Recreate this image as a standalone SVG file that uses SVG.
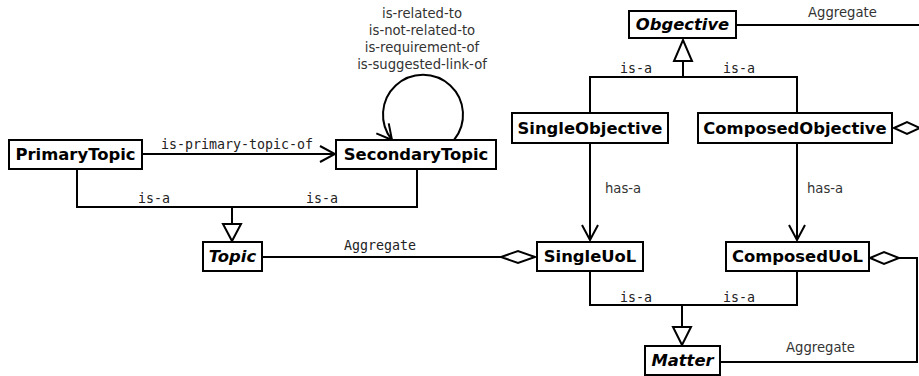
<svg xmlns="http://www.w3.org/2000/svg" width="919" height="376" viewBox="0 0 919 376">
<style>
.box{fill:#fff;stroke:#000;stroke-width:2}
.nt{font-family:"DejaVu Sans",sans-serif;font-weight:bold;font-size:16.4px;fill:#000;text-anchor:middle}
.it{font-style:italic}
.ln{fill:none;stroke:#000;stroke-width:2}
.tri{fill:#fff;stroke:#000;stroke-width:2}
.mono{font-family:"DejaVu Sans Mono",monospace;font-size:13.3px;fill:#222}
.sans{font-family:"DejaVu Sans",sans-serif;font-size:13.2px;fill:#333}
</style>
<defs>
<marker id="open" viewBox="0 0 18 18" refX="16" refY="9" markerWidth="18" markerHeight="18" markerUnits="userSpaceOnUse" orient="auto">
<path d="M1,1 L16,9 L1,17" fill="none" stroke="#000" stroke-width="2"/>
</marker>
</defs>
<g id="connectors">
<line class="ln" x1="142" y1="154" x2="335" y2="154" marker-end="url(#open)"/>
<text class="mono" x="161" y="149">is-primary-topic-of</text>
<path class="ln" d="M454,140 A40,40 0 1 0 392,140" marker-end="url(#open)"/>
<text class="sans" text-anchor="middle"><tspan x="422" y="18">is-related-to</tspan><tspan x="422" y="35">is-not-related-to</tspan><tspan x="422" y="52">is-requirement-of</tspan><tspan x="422" y="69">is-suggested-link-of</tspan></text>
<path class="ln" d="M77,169 V207 H417 V169 M232,207 V224"/>
<polygon class="tri" points="223,224 241,224 232,241"/>
<text class="mono" x="138" y="203">is-a</text>
<text class="mono" x="306" y="203">is-a</text>
<line class="ln" x1="262" y1="257" x2="501" y2="257"/>
<polygon class="tri" points="535,257 518,251 501,257 518,263"/>
<text class="mono" x="344" y="250">Aggregate</text>
<line class="ln" x1="736" y1="25" x2="919" y2="25"/>
<text class="sans" x="808" y="17">Aggregate</text>
<path class="ln" d="M590,113 V77 H797 V113 M683,77 V61"/>
<polygon class="tri" points="674,61 692,61 683,40"/>
<text class="mono" x="620" y="73">is-a</text>
<text class="mono" x="723" y="73">is-a</text>
<polygon class="tri" points="894,128 907,122 920,128 907,134"/>
<line class="ln" x1="590" y1="143" x2="590" y2="240" marker-end="url(#open)"/>
<line class="ln" x1="797" y1="143" x2="797" y2="240" marker-end="url(#open)"/>
<text class="sans" x="605" y="193">has-a</text>
<text class="sans" x="807" y="193">has-a</text>
<path class="ln" d="M590,271 V305 H797 V271 M682,305 V327"/>
<polygon class="tri" points="673,327 691,327 682,345"/>
<text class="mono" x="620" y="302">is-a</text>
<text class="mono" x="723" y="302">is-a</text>
<path class="ln" d="M720,362 H917 V258 H899"/>
<polygon class="tri" points="870,258 884,252 899,258 884,264"/>
<text class="sans" x="786" y="352">Aggregate</text>
</g>
<g id="PrimaryTopic"><rect class="box" x="9" y="140" width="133" height="29"/><text class="nt" x="75.5" y="160">PrimaryTopic</text></g>
<g id="SecondaryTopic"><rect class="box" x="336" y="140" width="160" height="29"/><text class="nt" x="416" y="160">SecondaryTopic</text></g>
<g id="Topic"><rect class="box" x="203" y="242" width="59" height="29"/><text class="nt it" x="232.5" y="262">Topic</text></g>
<g id="Obgective"><rect class="box" x="629" y="11" width="107" height="27"/><text class="nt it" x="682.5" y="30">Obgective</text></g>
<g id="SingleObjective"><rect class="box" x="512" y="113" width="156" height="30"/><text class="nt" x="590" y="134">SingleObjective</text></g>
<g id="ComposedObjective"><rect class="box" x="698" y="113" width="194" height="30"/><text class="nt" x="795" y="134">ComposedObjective</text></g>
<g id="SingleUoL"><rect class="box" x="537" y="242" width="106" height="29"/><text class="nt" x="590" y="262">SingleUoL</text></g>
<g id="ComposedUoL"><rect class="box" x="726" y="242" width="143" height="29"/><text class="nt" x="797.5" y="262">ComposedUoL</text></g>
<g id="Matter"><rect class="box" x="645" y="346" width="75" height="29"/><text class="nt it" x="682.5" y="366">Matter</text></g>
</svg>
